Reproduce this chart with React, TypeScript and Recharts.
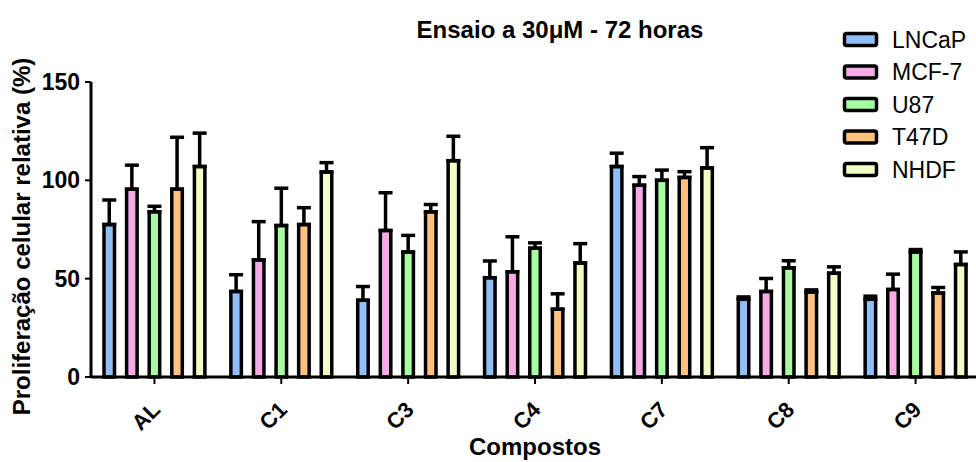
import { BarChart, Bar, XAxis, YAxis, ErrorBar, Legend, Label } from "recharts";

const compounds = ["AL", "C1", "C3", "C4", "C7", "C8", "C9"];

const lncap = [77.5, 43.5, 39, 50.5, 107, 39.5, 39.5];
const lncapErr = [12.5, 8.5, 7, 8.5, 6.8, 1.2, 1.6];
const mcf7 = [95.5, 59.5, 74.5, 53.5, 97.5, 43.5, 44.5];
const mcf7Err = [12.2, 19.5, 19.2, 17.8, 4.4, 6.6, 7.8];
const u87 = [84, 77, 63.5, 65.5, 100, 55.5, 63.5];
const u87Err = [2.8, 19, 8.5, 2.7, 5.2, 3.6, 1.3];
const t47d = [95.5, 77.5, 84, 34.5, 101.5, 43.2, 42.7];
const t47dErr = [26.4, 8.6, 3.7, 7.8, 2.9, 1.1, 2.8];
const nhdf = [107, 104.2, 110, 58, 106.3, 52.8, 57.2];
const nhdfErr = [17, 4.8, 12.4, 9.8, 10.3, 3.2, 6.4];

const yTicks = [0, 50, 100, 150];

const series = [
  { key: "lncap", name: "LNCaP", color: "#92BEF8", values: lncap, errors: lncapErr },
  { key: "mcf7", name: "MCF-7", color: "#F6AAE6", values: mcf7, errors: mcf7Err },
  { key: "u87", name: "U87", color: "#A6FFA0", values: u87, errors: u87Err },
  { key: "t47d", name: "T47D", color: "#FFC180", values: t47d, errors: t47dErr },
  { key: "nhdf", name: "NHDF", color: "#F3FEC6", values: nhdf, errors: nhdfErr },
];

const data = compounds.map((c, i) => {
  const row: Record<string, unknown> = { name: c };
  series.forEach((s) => {
    row[s.key] = s.values[i];
    // only the upper whisker is shown in the original
    row[s.key + "Err"] = [0, s.errors[i]];
  });
  return row;
});

const FONT = "'Liberation Sans', Arial, sans-serif";

function CompoundTick({ x, y, payload }: any) {
  const ax = x + 7;
  const ay = y + 25;
  return (
    <text
      x={ax}
      y={ay}
      transform={`rotate(-45 ${ax} ${ay})`}
      textAnchor="end"
      fontFamily={FONT}
      fontWeight="bold"
      fontSize={22}
      fill="#000"
    >
      {payload.value}
    </text>
  );
}

function renderLegend() {
  return (
    <svg width={136} height={180}>
      {series.map((s, i) => {
        const cy = 19.5 + i * 32.5;
        return (
          <g key={s.key}>
            <rect
              x={5.5}
              y={cy - 6}
              width={32}
              height={12}
              rx={2}
              fill={s.color}
              stroke="#000"
              strokeWidth={3.5}
            />
            <text x={53} y={cy + 8} fontFamily={FONT} fontSize={23} fill="#000">
              {s.name}
            </text>
          </g>
        );
      })}
    </svg>
  );
}

export default function App() {
  return (
    <div
      style={{
        position: "fixed",
        left: 0,
        top: 0,
        width: 976,
        height: 462,
        overflow: "hidden",
        background: "#fff",
        fontFamily: FONT,
      }}
    >
      <div
        style={{
          position: "absolute",
          left: 0,
          top: 18,
          width: 1120,
          textAlign: "center",
          fontSize: 24,
          lineHeight: "24px",
          fontWeight: "bold",
          zIndex: 2,
        }}
      >
        Ensaio a 30μM - 72 horas
      </div>
      <BarChart
        width={980}
        height={462}
        data={data}
        margin={{ top: 82, right: 1, bottom: 0, left: 0 }}
        barSize={10.5}
        barGap={12.1}
      >
        <XAxis
          dataKey="name"
          height={85}
          axisLine={{ stroke: "#000", strokeWidth: 3 }}
          tickLine={{ stroke: "#000", strokeWidth: 2 }}
          tickSize={7}
          tickMargin={2}
          tick={<CompoundTick />}
          interval={0}
        >
          <Label
            content={({ viewBox }: any) => (
              <text
                x={viewBox.x + viewBox.width / 2}
                y={455}
                textAnchor="middle"
                fontFamily={FONT}
                fontWeight="bold"
                fontSize={24}
                fill="#000"
              >
                Compostos
              </text>
            )}
          />
        </XAxis>
        <YAxis
          width={91}
          domain={[0, 150]}
          ticks={yTicks}
          axisLine={{ stroke: "#000", strokeWidth: 3 }}
          tickLine={{ stroke: "#000", strokeWidth: 2 }}
          tickSize={6}
          tickMargin={5}
          tick={{ fontFamily: FONT, fontWeight: "bold", fontSize: 23, fill: "#000" }}
        >
          <Label
            content={({ viewBox }: any) => {
              const cy = viewBox.y + viewBox.height / 2 + 7;
              return (
                <text
                  x={30}
                  y={cy}
                  transform={`rotate(-90 30 ${cy})`}
                  textAnchor="middle"
                  fontFamily={FONT}
                  fontWeight="bold"
                  fontSize={24}
                  fill="#000"
                >
                  Proliferação celular relativa (%)
                </text>
              );
            }}
          />
        </YAxis>
        <Legend
          content={renderLegend}
          layout="vertical"
          align="center"
          verticalAlign="middle"
          wrapperStyle={{ position: "absolute", left: 839, top: 20, width: 136, height: 180 }}
        />
        {series.map((s) => (
          <Bar
            key={s.key}
            dataKey={s.key}
            name={s.name}
            fill={s.color}
            stroke="#000"
            strokeWidth={3.5}
            isAnimationActive={false}
          >
            <ErrorBar
              dataKey={s.key + "Err"}
              width={7}
              stroke="#000"
              strokeWidth={3.5}
              direction="y"
              isAnimationActive={false}
            />
          </Bar>
        ))}
      </BarChart>
    </div>
  );
}
